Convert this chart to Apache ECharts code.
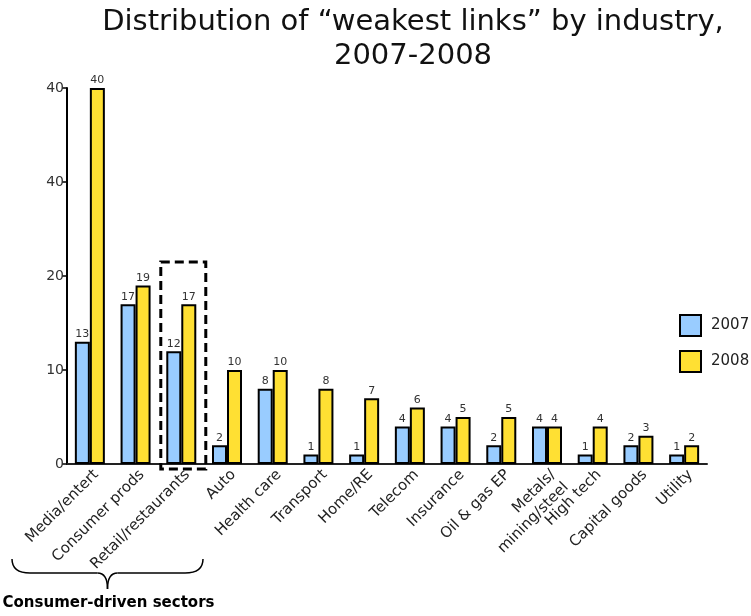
<!DOCTYPE html>
<html lang="en">
<head>
  <meta charset="UTF-8">
  <title>Weakest links by industry</title>
  <script src="https://cdn.jsdelivr.net/npm/echarts@6/dist/echarts.min.js"></script>
  <style>
    html, body { margin: 0; padding: 0; background: #fff; }
    #chart { width: 751px; height: 616px; }
  </style>
</head>
<body>
  <div id="chart"></div>

<script>
  // data
  const industries = ['Media/entert', 'Consumer prods', 'Retail/restaurants', 'Auto', 'Health care',
    'Transport', 'Home/RE', 'Telecom', 'Insurance', 'Oil & gas EP', 'Metals/\nmining/steel',
    'High tech', 'Capital goods', 'Utility'];
  const values2007 = [13, 17, 12, 2, 8, 1, 1, 4, 4, 2, 4, 1, 2, 1];
  const values2008 = [40, 19, 17, 10, 10, 8, 7, 6, 5, 5, 4, 4, 3, 2];
  // the original axis labels its ticks like this (sic)
  const yTickLabels = ['0', '10', '20', '40', '40'];

  const font = 'DejaVu Sans, Verdana, sans-serif';

  const chart = echarts.init(document.getElementById('chart'));

  const barLabel = {
    show: true,
    position: 'top',
    distance: 2,
    color: '#333',
    fontSize: 11,
    fontFamily: font
  };

  const option = {
    animation: false,
    title: {
      text: 'Distribution of \u201cweakest links\u201d by industry,\n2007-2008',
      left: 408,
      textAlign: 'center',
      top: 0,
      textStyle: {
        fontFamily: font,
        fontWeight: 'normal',
        fontSize: 29,
        lineHeight: 34,
        color: '#111'
      }
    },
    legend: {
      orient: 'vertical',
      left: 679,
      top: 314,
      padding: 0,
      itemWidth: 21,
      itemHeight: 21,
      itemGap: 13,
      icon: 'rect',
      textStyle: { fontFamily: font, fontSize: 15, color: '#222', padding: [0, 0, 0, 5] },
      data: ['2007', '2008']
    },
    grid: { left: 67, right: 44, top: 88, bottom: 152, containLabel: false },
    xAxis: {
      type: 'category',
      data: industries,
      axisLine: { lineStyle: { color: '#222', width: 2 } },
      axisTick: { show: false },
      axisLabel: {
        interval: 0,
        rotate: 45,
        margin: 2,
        verticalAlign: 'top',
        fontFamily: font,
        fontSize: 15,
        color: '#222',
        lineHeight: 18
      }
    },
    yAxis: {
      type: 'value',
      min: 0,
      max: 40,
      interval: 10,
      splitLine: { show: false },
      axisLine: { show: true, lineStyle: { color: '#000', width: 2 } },
      axisTick: { show: true, length: 5, lineStyle: { color: '#000', width: 1.5 } },
      axisLabel: {
        fontFamily: font,
        fontSize: 14,
        color: '#333',
        margin: 3,
        formatter: v => yTickLabels[Math.round(v / 10)]
      }
    },
    series: [
      {
        name: '2007',
        type: 'bar',
        data: values2007,
        barWidth: 15,
        barGap: '0%',
        itemStyle: { color: '#99ccff', borderColor: '#000', borderWidth: 2 },
        label: barLabel
      },
      {
        name: '2008',
        type: 'bar',
        data: values2008,
        barWidth: 15,
        itemStyle: { color: '#ffe033', borderColor: '#000', borderWidth: 2 },
        label: barLabel
      }
    ]
  };

  chart.setOption(option);

  // dashed box around Retail/restaurants, placed from the axes
  const cx = chart.convertToPixel({ xAxisIndex: 0 }, industries[2]);
  const yTop = chart.convertToPixel({ yAxisIndex: 0 }, 21.5);
  const y0 = chart.convertToPixel({ yAxisIndex: 0 }, 0);

  // curly brace under the first three categories
  const bl = 12, br = 203, bt = 559, bm = 573, tip = 589;
  const bc = (bl + br) / 2;
  const braceStyle = { fill: 'none', stroke: '#000', lineWidth: 1.5 };
  const braceParts = [
    { type: 'bezierCurve', shape: { x1: bl, y1: bt, cpx1: bl, cpy1: bm, x2: bl + 18, y2: bm } },
    { type: 'line', shape: { x1: bl + 18, y1: bm, x2: bc - 10, y2: bm } },
    { type: 'bezierCurve', shape: { x1: bc - 10, y1: bm, cpx1: bc, cpy1: bm, x2: bc, y2: tip } },
    { type: 'bezierCurve', shape: { x1: bc, y1: tip, cpx1: bc, cpy1: bm, x2: bc + 10, y2: bm } },
    { type: 'line', shape: { x1: bc + 10, y1: bm, x2: br - 18, y2: bm } },
    { type: 'bezierCurve', shape: { x1: br - 18, y1: bm, cpx1: br, cpy1: bm, x2: br, y2: bt } }
  ].map(p => Object.assign(p, { style: braceStyle }));

  chart.setOption({
    graphic: [
      {
        type: 'rect',
        shape: { x: cx - 20.5, y: yTop, width: 45, height: y0 - yTop + 5 },
        style: { fill: 'none', stroke: '#000', lineWidth: 3, lineDash: [9, 5] },
        z: 10
      },
      { type: 'group', children: braceParts },
      {
        type: 'text',
        x: bc + 1,
        y: 596,
        style: {
          text: 'Consumer-driven sectors',
          fontFamily: font,
          fontWeight: 'bold',
          fontSize: 15,
          fill: '#000',
          textAlign: 'center'
        }
      }
    ]
  });
</script>
</body>
</html>
